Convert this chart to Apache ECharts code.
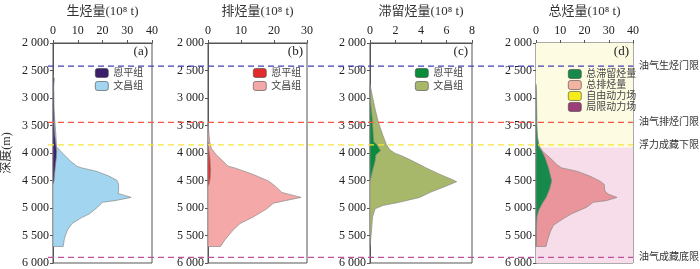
<!DOCTYPE html>
<html><head><meta charset="utf-8">
<script src="https://cdn.jsdelivr.net/npm/echarts@6/dist/echarts.min.js"></script>
<style>html,body{margin:0;padding:0;background:#fff}#c{width:700px;height:269px}</style>
</head><body><div id="c"></div>
<script>
// ---------- data ----------
const panelTitles = ['生烃量(10⁸ t)', '排烃量(10⁸ t)', '滞留烃量(10⁸ t)', '总烃量(10⁸ t)'];
const panelTags = ['(a)', '(b)', '(c)', '(d)'];
const xMaxes = [40, 30, 8, 40];
const xSteps = [10, 10, 2, 10];
const depthMin = 2000, depthMax = 6000, depthStep = 500;

// (a) hydrocarbon generation
const genWcDepth = [3100, 3300, 3500, 3700, 3884, 3973, 4063, 4152, 4241, 4271, 4330, 4420, 4497, 4568, 4688, 4735, 4807, 4866, 4896, 4986, 5104, 5175, 5282, 5402, 5560, 5700];
const genWcValue = [0, 0.5, 0.9, 1.2, 1.4, 3.2, 5.2, 7.1, 9.7, 11.6, 17.4, 22.6, 25.8, 26.5, 26.5, 26.3, 31.6, 25.0, 20.0, 18.0, 14.8, 11.6, 7.7, 5.8, 4.6, 4.1];
const genEpDepth = [2580, 2650, 2800, 3100, 3500, 3700, 3973, 4100, 4211, 4400, 4509, 4568];
const genEpValue = [0, 0.5, 0.3, 0.4, 0.5, 0.8, 1.5, 1.3, 1.0, 0.6, 0.4, 0];

// (b) hydrocarbon expulsion
const expWcDepth = [3450, 3600, 3795, 3914, 4032, 4152, 4241, 4271, 4390, 4509, 4598, 4717, 4807, 4866, 4914, 5015, 5164, 5283, 5402, 5580, 5700];
const expWcValue = [0, 0.2, 0.5, 1.0, 2.5, 4.6, 6.1, 8.1, 13.7, 18.3, 20.3, 22.4, 28.2, 23.4, 19.8, 17.8, 13.7, 9.7, 7.6, 5.1, 3.8];
const expEpDepth = [3800, 3950, 4100, 4300, 4450, 4550, 4600];
const expEpValue = [0, 0.3, 0.6, 0.8, 0.7, 0.4, 0];

// (c) retained hydrocarbon
const retWcDepth = [2753, 2961, 3200, 3437, 3675, 3854, 3943, 4003, 4062, 4152, 4271, 4390, 4479, 4521, 4598, 4717, 4807, 4896, 4955, 5015, 5164, 5461, 5700];
const retWcValue = [0, 0.18, 0.4, 0.65, 1.0, 1.3, 1.56, 1.95, 2.6, 3.4, 4.4, 5.5, 6.4, 6.8, 6.0, 4.7, 3.9, 2.3, 1.0, 0.4, 0.2, 0.1, 0];
const retEpDepth = [2783, 3080, 3378, 3675, 3795, 3854, 3961, 4032, 4152, 4271, 4390, 4509];
const retEpValue = [0, 0.05, 0.18, 0.26, 0.3, 0.57, 0.83, 0.47, 0.4, 0.26, 0.13, 0];

// (d) total
const totExpDepth = [3500, 3705, 3884, 3973, 4093, 4211, 4271, 4330, 4420, 4509, 4568, 4688, 4747, 4807, 4866, 4896, 4986, 5104, 5193, 5313, 5432, 5580, 5700];
const totExpValue = [0, 0.5, 1.5, 2.8, 5.9, 8.6, 10.6, 16.8, 22.2, 26.3, 28.1, 28.4, 29.7, 33.4, 29.0, 23.6, 20.9, 14.7, 11.3, 7.2, 5.9, 4.8, 4.1];
const totRetDepth = [2750, 2900, 3200, 3500, 3705, 3884, 3973, 4093, 4271, 4509, 4657, 4807, 4925, 5045, 5164, 5402, 5700];
const totRetValue = [0, 0.2, 0.3, 0.4, 0.6, 1.1, 2.5, 3.8, 5.2, 6.5, 5.6, 4.2, 2.5, 1.1, 0.4, 0.1, 0];

// dynamic field zones (depth ranges)
const fieldNames = ['自由动力场', '局限动力场'];
const fieldTop = [2000, 3900];
const fieldBottom = [3900, 6000];

// threshold lines
const thresholdDepth = [2500, 3500, 3900, 5900];
const thresholdName = ['油气生烃门限', '油气排烃门限', '浮力成藏下限', '油气成藏底限'];

// ---------- styles ----------
const FONT = "'Liberation Serif', 'Noto Sans CJK SC', serif";
const thresholdColors = ['#4040b4', '#f25a48', '#f6e63a', '#c0509a'];
const fieldFill = ['#fdfbe2', '#f6dde9'];
const fieldLegend = ['#f5ec1a', '#9a3d78'];
const panelLeft = [48, 208, 370, 536];
const panelWidth = [104, 99, 102, 97];
const gridTop = 38, gridH = 225;

function areaSeries(g, name, depths, values, color) {
  return {
    type: 'custom', name: name, xAxisIndex: g, yAxisIndex: g,
    data: depths.map((d, i) => [values[i], d]),
    encode: { x: 0, y: 1 },
    itemStyle: { color: color },
    renderItem: function (params, api) {
      if (params.dataIndex !== 0) return null;
      const pts = [api.coord([0, depths[0]])];
      depths.forEach((d, i) => pts.push(api.coord([values[i], d])));
      pts.push(api.coord([0, depths[depths.length - 1]]));
      return { type: 'polygon', shape: { points: pts },
        style: { fill: color, stroke: '#8a8a8a', lineWidth: 0.7 } };
    }
  };
}

function fieldSeries(i) {
  return {
    type: 'custom', name: fieldNames[i], xAxisIndex: 3, yAxisIndex: 3,
    data: [[0, fieldTop[i]], [xMaxes[3], fieldBottom[i]]],
    itemStyle: { color: fieldLegend[i] },
    renderItem: function (params, api) {
      if (params.dataIndex !== 0) return null;
      const p1 = api.coord([0, fieldTop[i]]);
      const p2 = api.coord([xMaxes[3], fieldBottom[i]]);
      return { type: 'rect', shape: { x: p1[0], y: p1[1], width: p2[0] - p1[0], height: p2[1] - p1[1] },
        style: { fill: fieldFill[i] } };
    }
  };
}

const grids = [], xAxes = [], yAxes = [];
for (let g = 0; g < 4; g++) {
  grids.push({ left: panelLeft[g], width: panelWidth[g], top: gridTop, height: gridH,
    show: true, borderColor: '#555', borderWidth: 1, backgroundColor: 'transparent' });
  xAxes.push({ type: 'value', gridIndex: g, position: 'top', min: 0, max: xMaxes[g], interval: xSteps[g],
    name: panelTitles[g], nameLocation: 'middle', nameGap: 25,
    nameTextStyle: { fontFamily: FONT, fontSize: 13, color: '#333' },
    axisLine: { show: true, lineStyle: { color: '#555' } },
    axisTick: { show: true, length: 3, lineStyle: { color: '#555' } },
    axisLabel: { fontFamily: FONT, fontSize: 12, color: '#222', margin: 6 },
    splitLine: { show: false } });
  yAxes.push({ type: 'value', gridIndex: g, inverse: true, min: depthMin, max: depthMax, interval: depthStep,
    name: g === 0 ? '深度(m)' : '', nameLocation: 'middle', nameGap: 40, nameRotate: 90,
    nameTextStyle: { fontFamily: FONT, fontSize: 12, color: '#333' },
    axisLine: { show: true, lineStyle: { color: '#555' } },
    axisTick: { show: true, length: 3, lineStyle: { color: '#555' } },
    axisLabel: { fontFamily: FONT, fontSize: 12, color: '#222', margin: 4,
      formatter: v => String(v).replace(/\B(?=(\d{3})+(?!\d))/g, ' ') },
    splitLine: { show: false } });
}
// overlay grid for threshold lines
grids.push({ left: 48, right: 67, top: gridTop, height: gridH, show: false });
xAxes.push({ type: 'value', gridIndex: 4, min: 0, max: 1, show: false });
yAxes.push({ type: 'value', gridIndex: 4, inverse: true, min: depthMin, max: depthMax, show: false });

const series = [
  areaSeries(0, '文昌组', genWcDepth, genWcValue, '#a2d5ef'),
  areaSeries(0, '恩平组', genEpDepth, genEpValue, '#3b1f6b'),
  areaSeries(1, '文昌组', expWcDepth, expWcValue, '#f5a8a8'),
  areaSeries(1, '恩平组', expEpDepth, expEpValue, '#e22b2b'),
  areaSeries(2, '文昌组', retWcDepth, retWcValue, '#a8b86a'),
  areaSeries(2, '恩平组', retEpDepth, retEpValue, '#0b8c3c'),
  fieldSeries(0), fieldSeries(1),
  areaSeries(3, '总排烃量', totExpDepth, totExpValue, '#e9959b'),
  areaSeries(3, '总滞留烃量', totRetDepth, totRetValue, '#17894a'),
  {
    type: 'custom', name: 'thresholds', xAxisIndex: 4, yAxisIndex: 4, z: 10,
    data: thresholdDepth.map(d => [0, d]),
    encode: { x: 0, y: 1 },
    renderItem: function (params, api) {
      const i = params.dataIndex;
      const a = api.coord([0, thresholdDepth[i]]);
      const b = api.coord([1, thresholdDepth[i]]);
      return { type: 'group', children: [
        { type: 'line', shape: { x1: a[0], y1: a[1], x2: b[0], y2: b[1] },
          style: { stroke: thresholdColors[i], lineWidth: 1.1, lineDash: [6, 4] } },
        { type: 'text', x: b[0] + 6, y: b[1],
          style: { text: thresholdName[i], fontFamily: FONT, fontSize: 10, fill: '#333',
            verticalAlign: 'middle', align: 'left' } }
      ] };
    }
  }
];

const legendBase = { orient: 'vertical', top: 63, itemWidth: 13, itemHeight: 9, itemGap: 3,
  textStyle: { fontFamily: FONT, fontSize: 10, color: '#444' }, selectedMode: false,
  itemStyle: { borderColor: '#444', borderWidth: 0.6 } };
const legends = [
  Object.assign({}, legendBase, { left: 90, data: [
    { name: '恩平组', itemStyle: { color: '#3b1f6b' } }, { name: '文昌组', itemStyle: { color: '#a2d5ef' } }] }),
  Object.assign({}, legendBase, { left: 248, data: [
    { name: '恩平组', itemStyle: { color: '#e22b2b' } }, { name: '文昌组', itemStyle: { color: '#f5a8a8' } }] }),
  Object.assign({}, legendBase, { left: 410, data: [
    { name: '恩平组', itemStyle: { color: '#0b8c3c' } }, { name: '文昌组', itemStyle: { color: '#a8b86a' } }] }),
  Object.assign({}, legendBase, { left: 563, top: 64, itemGap: 1, data: [
    { name: '总滞留烃量', itemStyle: { color: '#17894a' } }, { name: '总排烃量', itemStyle: { color: '#f4b4a4' } },
    { name: fieldNames[0], itemStyle: { color: fieldLegend[0] } }, { name: fieldNames[1], itemStyle: { color: fieldLegend[1] } }] })
];

const graphics = panelTags.map((t, g) => ({
  type: 'text', x: panelLeft[g] + panelWidth[g] - 4, y: 45, z: 20,
  style: { text: t, fontFamily: FONT, fontSize: 13, fill: '#222', align: 'right', verticalAlign: 'top' }
}));

const chart = echarts.init(document.getElementById('c'), null, { renderer: 'canvas' });
chart.setOption({
  animation: false,
  backgroundColor: '#fff',
  grid: grids, xAxis: xAxes, yAxis: yAxes,
  legend: legends, series: series, graphic: graphics
});
</script></body></html>
